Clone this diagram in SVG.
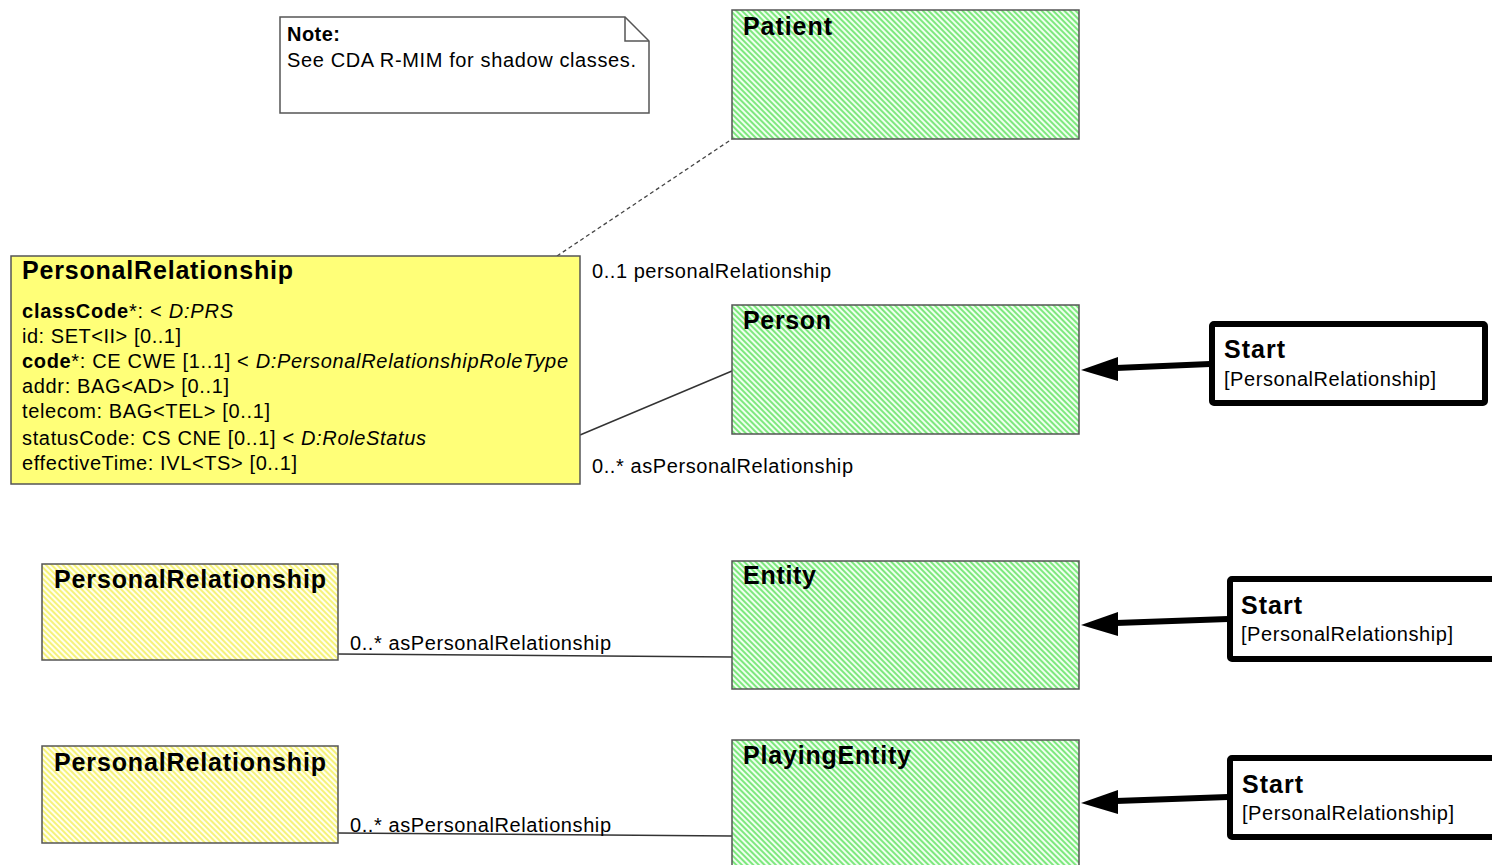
<svg xmlns="http://www.w3.org/2000/svg" width="1492" height="865" viewBox="0 0 1492 865">
<style>
text{font-family:"Liberation Sans",Arial,sans-serif;fill:#000}
.title{font-weight:bold;font-size:25px}
.attr{font-size:20px}
.lbl{font-size:20px}
.b{font-weight:bold}
.i{font-style:italic}
.cls{stroke:#555;stroke-width:1.5}
.start{fill:#fff;stroke:#000;stroke-width:6}
.conn{fill:none;stroke:#333;stroke-width:1.5}
.thick{fill:none;stroke:#000;stroke-width:6}
</style>
<defs>
<pattern id="hg" width="4" height="4" patternUnits="userSpaceOnUse" patternTransform="rotate(-45)">
<rect width="4" height="4" fill="#f0fff0"/>
<rect width="2" height="4" fill="#7ee87e"/>
</pattern>
<pattern id="hy" width="4" height="4" patternUnits="userSpaceOnUse" patternTransform="rotate(-45)">
<rect width="4" height="4" fill="#ffffee"/>
<rect width="2" height="4" fill="#f6f27a"/>
</pattern>
</defs>

<g id="connectors">
<line x1="557" y1="256" x2="732" y2="139" stroke="#444" stroke-width="1.3" stroke-dasharray="4,3"/>
<line class="conn" x1="580" y1="435" x2="732" y2="371"/>
<line class="conn" x1="338" y1="654" x2="732" y2="657"/>
<line class="conn" x1="338" y1="833" x2="732" y2="836"/>
<line class="thick" x1="1210" y1="364" x2="1116" y2="368"/>
<path d="M1081,370 L1118,357 L1118,381 Z" fill="#000"/>
<line class="thick" x1="1228" y1="619" x2="1116" y2="623"/>
<path d="M1081,625 L1118,612 L1118,636 Z" fill="#000"/>
<line class="thick" x1="1228" y1="797" x2="1116" y2="801"/>
<path d="M1081,803 L1118,790 L1118,814 Z" fill="#000"/>
<text class="lbl" x="592" y="278" textLength="239">0..1 personalRelationship</text>
<text class="lbl" x="592" y="473" textLength="261">0..* asPersonalRelationship</text>
<text class="lbl" x="350" y="650" textLength="261">0..* asPersonalRelationship</text>
<text class="lbl" x="350" y="832" textLength="261">0..* asPersonalRelationship</text>
</g>

<g id="note">
<path d="M280,17 L625,17 L649,41 L649,113 L280,113 Z" fill="#fff" stroke="#555" stroke-width="1.5"/>
<path d="M625,17 L625,41 L649,41" fill="none" stroke="#555" stroke-width="1.5"/>
<text class="b" x="287" y="41" font-size="20" textLength="53">Note:</text>
<text x="287" y="67" font-size="20" textLength="349">See CDA R-MIM for shadow classes.</text>
</g>

<g id="patient">
<rect class="cls" x="732" y="10" width="347" height="129" fill="url(#hg)"/>
<text class="title" x="743" y="35" textLength="89">Patient</text>
</g>

<g id="personalRelationship">
<rect class="cls" x="11" y="256" width="569" height="228" fill="#ffff78"/>
<text class="title" x="22" y="279" textLength="271">PersonalRelationship</text>
<text class="attr" x="22" y="318" textLength="211"><tspan class="b">classCode</tspan>*: &lt; <tspan class="i">D:PRS</tspan></text>
<text class="attr" x="22" y="343" textLength="159">id: SET&lt;II&gt; [0..1]</text>
<text class="attr" x="22" y="368" textLength="546"><tspan class="b">code</tspan>*: CE CWE [1..1] &lt; <tspan class="i">D:PersonalRelationshipRoleType</tspan></text>
<text class="attr" x="22" y="393" textLength="207">addr: BAG&lt;AD&gt; [0..1]</text>
<text class="attr" x="22" y="418" textLength="248">telecom: BAG&lt;TEL&gt; [0..1]</text>
<text class="attr" x="22" y="445" textLength="404">statusCode: CS CNE [0..1] &lt; <tspan class="i">D:RoleStatus</tspan></text>
<text class="attr" x="22" y="470" textLength="275">effectiveTime: IVL&lt;TS&gt; [0..1]</text>
</g>

<g id="person">
<rect class="cls" x="732" y="305" width="347" height="129" fill="url(#hg)"/>
<text class="title" x="743" y="329" textLength="88">Person</text>
</g>

<g id="start1">
<rect class="start" x="1212" y="324" width="273" height="79" rx="2"/>
<text class="title" x="1224" y="358" textLength="61">Start</text>
<text class="lbl" x="1224" y="386" textLength="212">[PersonalRelationship]</text>
</g>

<g id="personalRelationship2">
<rect class="cls" x="42" y="564" width="296" height="96" fill="url(#hy)"/>
<text class="title" x="54" y="588" textLength="272">PersonalRelationship</text>
</g>

<g id="entity">
<rect class="cls" x="732" y="561" width="347" height="128" fill="url(#hg)"/>
<text class="title" x="743" y="584" textLength="73">Entity</text>
</g>

<g id="start2">
<rect class="start" x="1230" y="579" width="290" height="80" rx="2"/>
<text class="title" x="1241" y="614" textLength="61">Start</text>
<text class="lbl" x="1241" y="641" textLength="212">[PersonalRelationship]</text>
</g>

<g id="personalRelationship3">
<rect class="cls" x="42" y="746" width="296" height="97" fill="url(#hy)"/>
<text class="title" x="54" y="771" textLength="272">PersonalRelationship</text>
</g>

<g id="playingEntity">
<rect class="cls" x="732" y="740" width="347" height="140" fill="url(#hg)"/>
<text class="title" x="743" y="764" textLength="168">PlayingEntity</text>
</g>

<g id="start3">
<rect class="start" x="1230" y="758" width="290" height="79" rx="2"/>
<text class="title" x="1242" y="793" textLength="61">Start</text>
<text class="lbl" x="1242" y="820" textLength="212">[PersonalRelationship]</text>
</g>
</svg>
